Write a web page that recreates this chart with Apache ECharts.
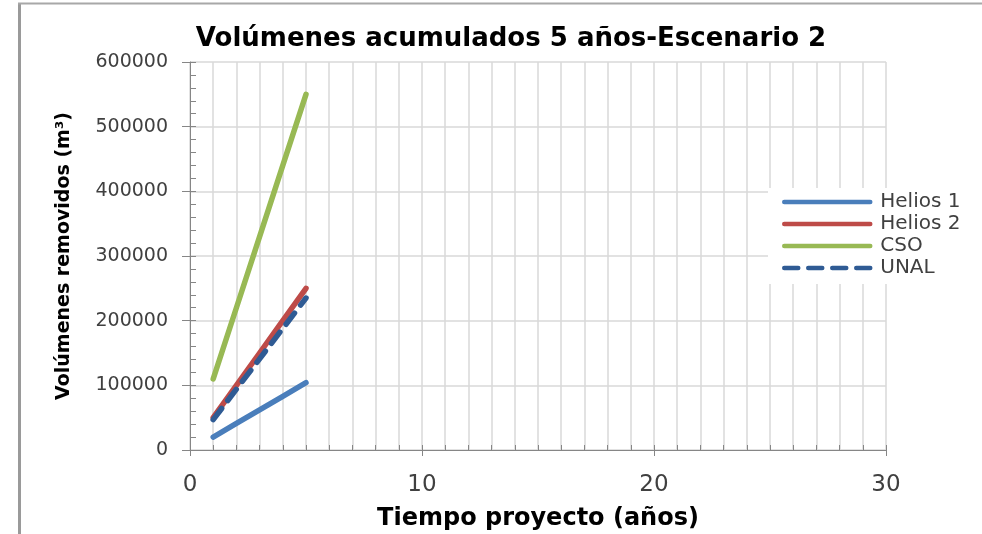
<!DOCTYPE html>
<html>
<head>
<meta charset="utf-8">
<title>Volúmenes acumulados 5 años-Escenario 2</title>
<script src="https://cdn.jsdelivr.net/npm/echarts@6/dist/echarts.min.js"></script>
<style>
  html, body { margin: 0; padding: 0; background: #fff; }
  #chart { width: 982px; height: 534px; }
</style>
</head>
<body>
<div id="chart"></div>
<script>
// Años del proyecto y volúmenes acumulados (m³) por alternativa
const years   = [1, 2, 3, 4, 5];
const helios1 = [20000, 41000, 62000, 83000, 104000];
const helios2 = [50000, 100000, 150000, 200000, 250000];
const cso     = [110000, 220000, 330000, 440000, 550000];
const unal    = [47000, 94000, 141000, 188000, 235000];

const seriesNames = ['Helios 1', 'Helios 2', 'CSO', 'UNAL'];
const xTicks = [0, 10, 20, 30];
const yTicks = [0, 100000, 200000, 300000, 400000, 500000, 600000];

const FONT = 'DejaVu Sans';
const LINE_W = 5.5;
const pairs = vals => years.map((y, i) => [y, vals[i]]);

const chart = echarts.init(document.getElementById('chart'));

const lineSeries = (name, vals, color, type) => ({
  name: name,
  type: 'line',
  data: pairs(vals),
  xAxisIndex: 0,
  yAxisIndex: 0,
  symbol: 'none',
  showSymbol: false,
  animation: false,
  lineStyle: { color: color, width: LINE_W, type: type || 'solid', cap: 'round' },
  itemStyle: { color: color }
});

chart.setOption({
  animation: false,
  backgroundColor: '#fff',
  textStyle: { fontFamily: FONT },
  title: {
    text: 'Volúmenes acumulados 5 años-Escenario 2',
    left: 506,
    textAlign: 'center',
    top: 21,
    textStyle: { fontFamily: FONT, fontSize: 26, fontWeight: 'bold', color: '#000' }
  },
  grid: { left: 190, right: 96, top: 62, bottom: 84, containLabel: false, outerBoundsMode: 'none' },
  legend: {
    data: seriesNames,
    orient: 'vertical',
    left: 768,
    top: 188,
    padding: [4, 10, 6, 14],
    itemGap: 2,
    itemWidth: 86,
    itemHeight: 14,
    backgroundColor: '#fff',
    itemStyle: { opacity: 0 },
    lineStyle: { width: 4.5, cap: 'round' },
    textStyle: { fontFamily: FONT, fontSize: 20, color: '#404040', padding: [0, 0, 0, 5] }
  },
  xAxis: [
    {
      type: 'value',
      min: xTicks[0],
      max: xTicks[xTicks.length - 1],
      interval: 10,
      name: 'Tiempo proyecto (años)',
      nameLocation: 'middle',
      nameGap: 57,
      nameTextStyle: { fontFamily: FONT, fontSize: 24, fontWeight: 'bold', color: '#000' },
      axisLine: { show: true, lineStyle: { color: '#868686', width: 1 } },
      axisTick: { show: true, length: 6, lineStyle: { color: '#868686' } },
      axisLabel: { margin: 24, fontFamily: FONT, fontSize: 23, color: '#404040' },
      splitLine: { show: true, lineStyle: { color: '#d9d9d9', width: 1.5 } },
      minorTick: { show: false, splitNumber: 10 },
      minorSplitLine: { show: true, lineStyle: { color: '#d9d9d9', width: 1.5 } }
    },
    {
      // marcas menores anuales hacia el interior
      type: 'value',
      min: 0,
      max: 30,
      interval: 1,
      position: 'bottom',
      axisLine: { show: false },
      axisTick: { show: true, inside: true, length: 5, lineStyle: { color: '#868686' } },
      axisLabel: { show: false },
      splitLine: { show: false }
    }
  ],
  yAxis: [
    {
      type: 'value',
      min: yTicks[0],
      max: yTicks[yTicks.length - 1],
      interval: 100000,
      name: 'Volúmenes removidos (m³)',
      nameLocation: 'middle',
      nameGap: 116,
      nameTextStyle: { fontFamily: FONT, fontSize: 19, fontWeight: 'bold', color: '#000' },
      axisLine: { show: true, lineStyle: { color: '#868686', width: 1 } },
      axisTick: { show: true, length: 8, lineStyle: { color: '#868686' } },
      axisLabel: {
        margin: 22,
        fontFamily: FONT,
        fontSize: 19,
        color: '#404040',
        formatter: v => String(v)
      },
      splitLine: { show: true, lineStyle: { color: '#d9d9d9', width: 1.5 } }
    },
    {
      // marcas menores cada 20000 hacia el interior
      type: 'value',
      min: 0,
      max: 600000,
      interval: 20000,
      position: 'left',
      axisLine: { show: false },
      axisTick: { show: true, inside: true, length: 6, lineStyle: { color: '#868686' } },
      axisLabel: { show: false },
      splitLine: { show: false }
    }
  ],
  graphic: [
    {
      type: 'line',
      shape: { x1: 19.5, y1: 3, x2: 19.5, y2: 534 },
      style: { stroke: '#9a9a9a', lineWidth: 3 },
      z: 100
    },
    {
      type: 'line',
      shape: { x1: 18, y1: 3.5, x2: 990, y2: 3.5 },
      style: { stroke: '#a8a8a8', lineWidth: 2 },
      z: 100
    }
  ],
  series: [
    lineSeries(seriesNames[0], helios1, '#4a7ebb'),
    lineSeries(seriesNames[1], helios2, '#be4b48'),
    lineSeries(seriesNames[2], cso, '#98b954'),
    lineSeries(seriesNames[3], unal, '#2f5b94', [14, 10])
  ]
});
</script>
</body>
</html>
